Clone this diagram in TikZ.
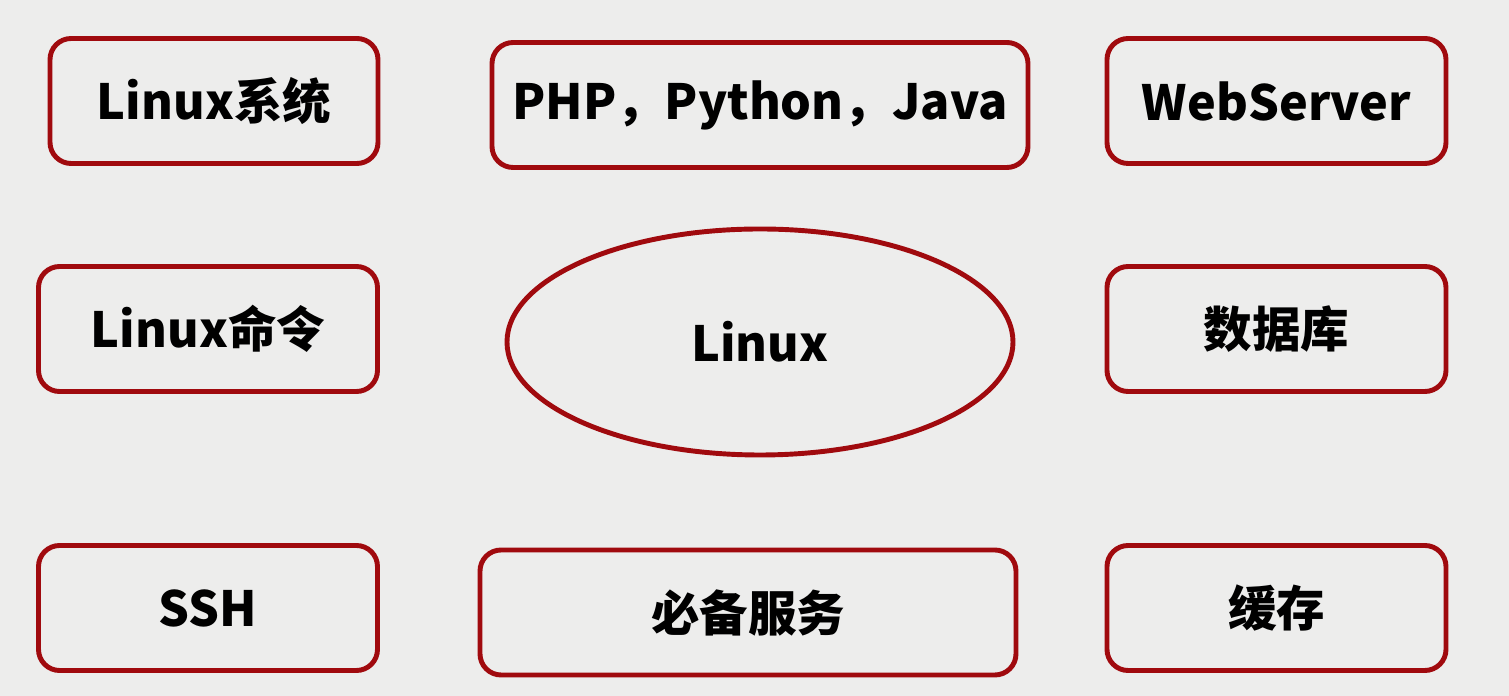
\documentclass[tikz,border=0pt]{standalone}
\usetikzlibrary{shapes.geometric}
\usepackage{fontspec}
\newfontfamily\cjk{Noto Sans CJK SC}
\definecolor{frame}{HTML}{A00A0E}
\definecolor{paper}{HTML}{EDEDEC}

\begin{document}
\begin{tikzpicture}[font=\cjk\bfseries\fontsize{13.8}{16}\selectfont,
    every node/.style={draw=frame,line width=1.4pt,text=black},
    box/.style={rounded corners=6pt,minimum height=1.25cm},
    smallbox/.style={box,minimum width=3.39cm},
    widebox/.style={box,minimum width=5.36cm}]
  \fill[paper] (0,0) rectangle (15.09,6.96);
  \useasboundingbox (0,0) rectangle (15.09,6.96);

  \node[box,minimum width=3.28cm] (sys) at (2.14,5.95) {Linux系统};
  \node[widebox] (lang) at (7.60,5.91) {PHP，Python，Java};
  \node[smallbox] (web) at (12.765,5.95) {WebServer};

  \node[smallbox] (cmd) at (2.08,3.67) {Linux命令};
  \node[ellipse,minimum width=5.06cm,minimum height=2.26cm] (linux)
    at (7.60,3.54) {Linux};
  \node[smallbox] (db) at (12.765,3.67) {数据库};

  \node[smallbox] (ssh) at (2.08,0.88) {SSH};
  \node[widebox] (srv) at (7.48,0.835) {必备服务};
  \node[smallbox] (cache) at (12.765,0.88) {缓存};
\end{tikzpicture}
\end{document}
